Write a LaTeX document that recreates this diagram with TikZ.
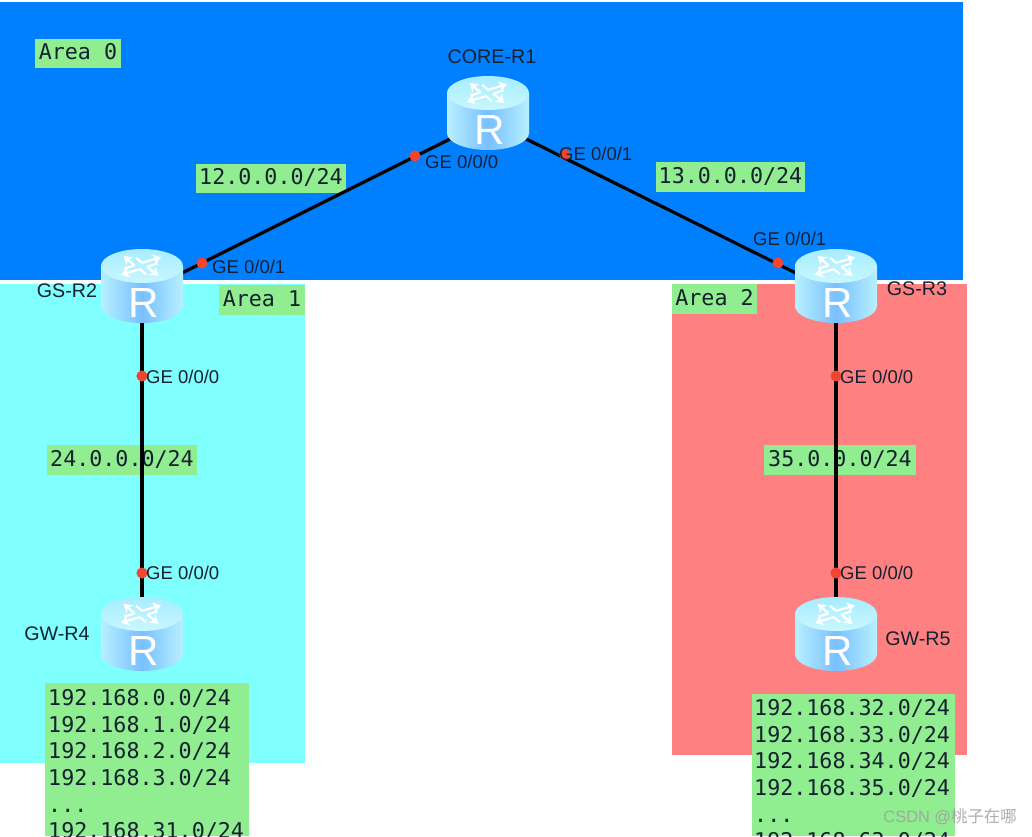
\documentclass[tikz,border=0pt]{standalone}
\usepackage{fontspec}
\setmainfont{Liberation Sans}
\newfontfamily\tagfont{DejaVu Sans Mono}
\newfontfamily\cjkfont{Noto Sans CJK SC}
\usetikzlibrary{arrows.meta,positioning}
\definecolor{AreaBlue}{HTML}{0080FF}
\definecolor{AreaCyan}{HTML}{80FFFF}
\definecolor{AreaRed}{HTML}{FF8080}
\definecolor{TagGreen}{HTML}{90EE90}
\definecolor{PortRed}{HTML}{F04530}
\definecolor{InkDark}{HTML}{152030}
\definecolor{BodyEdge}{HTML}{B8F0FF}
\definecolor{BodyMid}{HTML}{78C0FF}
\definecolor{TopLight}{HTML}{C8F8FF}
\definecolor{TopDark}{HTML}{A8ECFF}
\tikzset{
  areabox/.style={draw=none},
  nettag/.style={fill=TagGreen, inner sep=0pt, minimum height=25pt, align=center, text depth=3pt,
                 font=\tagfont\fontsize{18.5}{23}\selectfont\color{InkDark}},
  netlist/.style={anchor=north west, inner sep=0pt, align=left,
                  font=\tagfont\fontsize{18.5}{22.8}\selectfont\color{InkDark}},
  link/.style={line width=2.7pt, black},
  port/.style={circle, fill=PortRed, inner sep=0pt, minimum size=9.5pt},
  portlabel/.style={anchor=west, inner sep=0pt, font=\fontsize{15.8}{18}\selectfont\color{InkDark}},
  hostlabel/.style={inner sep=0pt, font=\fontsize{16.8}{20}\selectfont\color{InkDark}},
  rtr/.style={inner sep=0pt, minimum size=0pt},
  pics/routericon/.style={code={
    \shade[left color=BodyEdge, right color=BodyEdge, middle color=BodyMid]
      (-41,-20) -- (-41,20) arc[start angle=180, end angle=360, x radius=41, y radius=-17]
      -- (41,-20) -- cycle;
    \shade[top color=TopDark, bottom color=TopLight] (0,-20) ellipse[x radius=41, y radius=17];
    \begin{scope}[shift={(-1,-20)}, yscale=0.5]
      \foreach \ang in {30,120,210,300} {
        \draw[white, line width=1.9pt, rotate=\ang, -{Stealth[length=7pt,width=9pt]}]
          (4,-5) -- (26,-5);
        \draw[white, line width=1.9pt, rotate=\ang] (4,-5) -- (4,-17);
      }
    \end{scope}
    \node[text=white, inner sep=0pt, font=\fontsize{36}{36}\selectfont] (rmark) at (2,17) {R};
  }},
}

\begin{document}
\begin{tikzpicture}[x=0.03cm, y=-0.03cm]

  \clip (0,0) rectangle (1032,836);

  % ---- Areas ----
  \fill[white] (0,0) rectangle (1032,836);
  \fill[areabox, AreaBlue] (0,2) rectangle (963,280);
  \fill[areabox, AreaCyan] (0,284) rectangle (305,763);
  \fill[areabox, AreaRed]  (672,284) rectangle (967,755);

  % ---- Area and network tags ----
  \node[nettag, minimum width=73pt] (area0) at (78,53.5)   {Area 0};
  \node[nettag, minimum width=73pt] (area1) at (262,300)   {Area 1};
  \node[nettag, minimum width=73pt] (area2) at (714.5,299) {Area 2};
  \node[nettag, minimum width=128pt] (net12) at (271,178.5) {12.0.0.0/24};
  \node[nettag, minimum width=128pt] (net13) at (730.5,177) {13.0.0.0/24};
  \node[nettag, minimum width=128pt] (net24) at (122,460)   {24.0.0.0/24};
  \node[nettag, minimum width=129pt] (net35) at (840,460)   {35.0.0.0/24};

  \fill[TagGreen] (45,683) rectangle (249,836);
  \fill[TagGreen] (752,694) rectangle (955,836);
  \node[netlist] (lan4) at (48,689)
    {192.168.0.0/24\\192.168.1.0/24\\192.168.2.0/24\\192.168.3.0/24\\...\\192.168.31.0/24};
  \node[netlist] (lan5) at (754,699)
    {192.168.32.0/24\\192.168.33.0/24\\192.168.34.0/24\\192.168.35.0/24\\...\\192.168.63.0/24};

  % ---- Router anchors ----
  \node[rtr] (core) at (488,120) {};
  \node[rtr] (gsr2) at (142,293) {};
  \node[rtr] (gsr3) at (836,293) {};
  \node[rtr] (gwr4) at (142,641) {};
  \node[rtr] (gwr5) at (836,641) {};

  % ---- Links ----
  \draw[link] (core) -- (gsr2);
  \draw[link] (core) -- (gsr3);
  \draw[link] (gsr2) -- (gwr4);
  \draw[link] (gsr3) -- (gwr5);

  % ---- Routers ----
  \pic (coreicon) at (488,113) {routericon};
  \pic (gsr2icon) at (142,286) {routericon};
  \pic (gsr3icon) at (836,286) {routericon};
  \pic (gwr4icon) at (142,634) {routericon};
  \pic (gwr5icon) at (836,634) {routericon};

  \node[hostlabel] (corename) at (492,57)  {CORE-R1};
  \node[hostlabel] (gsr2name) at (67,291)  {GS-R2};
  \node[hostlabel] (gsr3name) at (917,289) {GS-R3};
  \node[hostlabel] (gwr4name) at (57,634)  {GW-R4};
  \node[hostlabel] (gwr5name) at (918,639) {GW-R5};

  % ---- Ports ----
  \node[port] (p1a) at (415,156) {};
  \node[port] (p1b) at (565,155) {};
  \node[port] (p2a) at (202,263) {};
  \node[port] (p3a) at (778,263) {};
  \node[port] (p2b) at (142,376) {};
  \node[port] (p3b) at (836,376) {};
  \node[port] (p4a) at (142,573) {};
  \node[port] (p5a) at (836,573) {};

  \node[portlabel] (l1a) at (425,162) {GE 0/0/0};
  \node[portlabel] (l1b) at (559,154) {GE 0/0/1};
  \node[portlabel] (l2a) at (212,267) {GE 0/0/1};
  \node[portlabel] (l3a) at (753,239) {GE 0/0/1};
  \node[portlabel] (l2b) at (146,377) {GE 0/0/0};
  \node[portlabel] (l3b) at (840,377) {GE 0/0/0};
  \node[portlabel] (l4a) at (146,573) {GE 0/0/0};
  \node[portlabel] (l5a) at (840,573) {GE 0/0/0};

  % ---- Watermark ----
  \node[anchor=east, inner sep=0pt, text=gray!75, opacity=0.85,
        font=\fontsize{14}{16}\selectfont] (mark) at (1017,817) {CSDN @{\cjkfont 桃子在哪}};

\end{tikzpicture}
\end{document}
